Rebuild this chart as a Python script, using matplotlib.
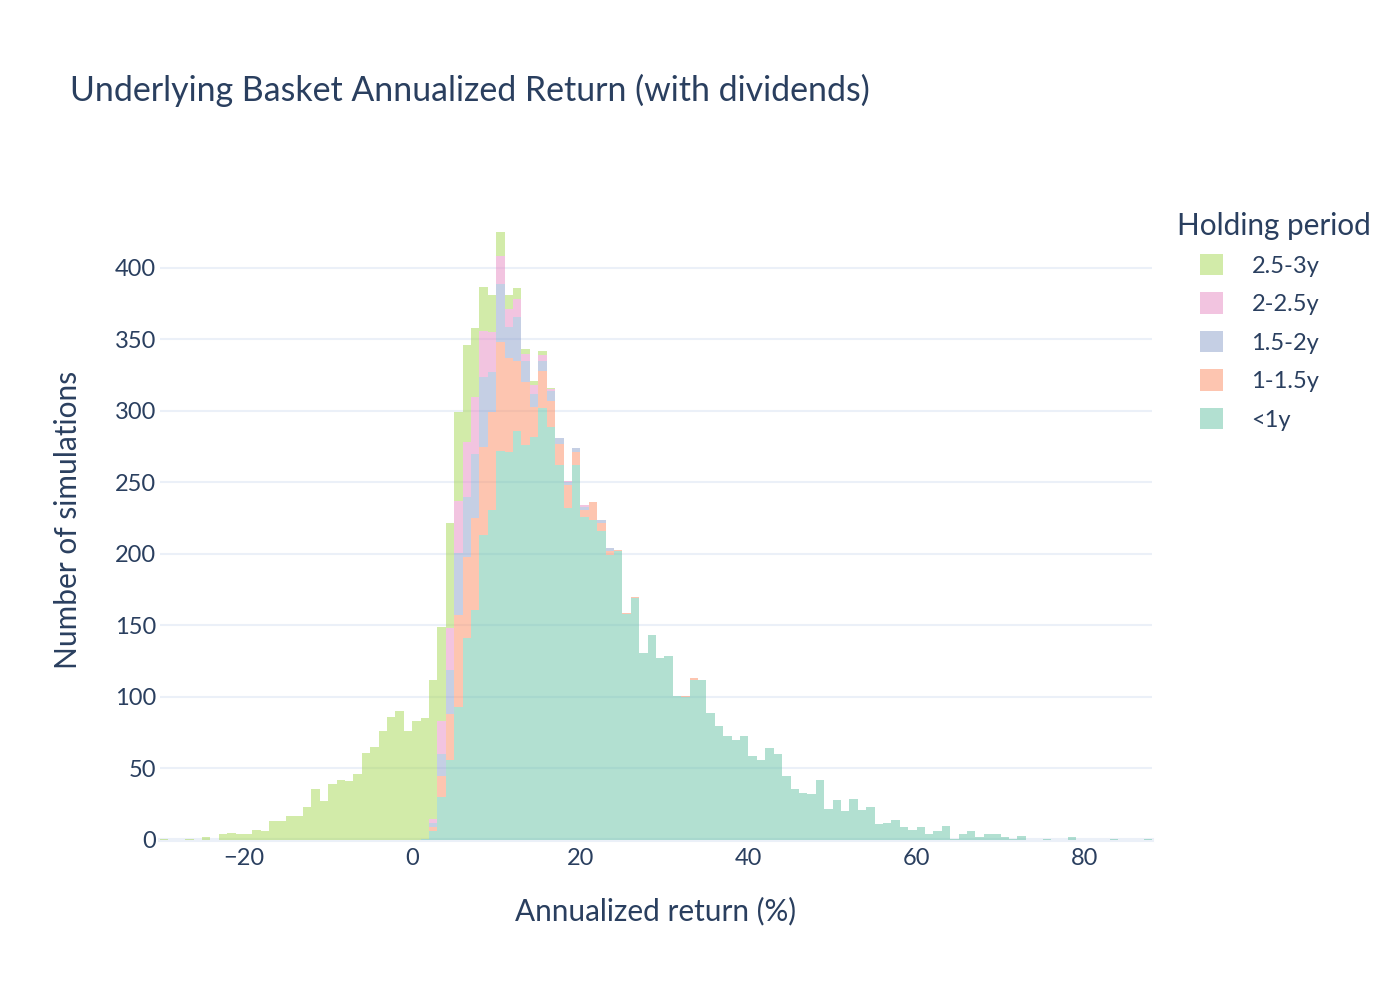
import matplotlib
matplotlib.use("Agg")
import matplotlib.pyplot as plt
from matplotlib.patches import Patch
import numpy as np

plt.rcParams['font.family'] = ['Lato', 'DejaVu Sans']

# ---------------- data ----------------
bin_start = -30          # left edge of first 1%-wide bin
n_bins = 118             # bins cover -30 .. 88

labels = ["<1y", "1-1.5y", "1.5-2y", "2-2.5y", "2.5-3y"]
colors = ["#66C2A5", "#FC8D62", "#8DA0CB", "#E78AC3", "#A6D854"]

# counts per bin, each list starts at the bin given by *_from
lt1_from = 1
lt1 = [1, 6, 30, 56, 93, 141, 161, 213, 231, 272,
       271, 286, 276, 282, 302, 289, 262, 232, 262, 226,
       224, 216, 199, 202, 158, 169, 131, 143, 127, 129,
       101, 100, 112, 112, 89, 80, 73, 70, 73, 59,
       56, 64, 60, 45, 36, 33, 32, 42, 22, 28,
       20, 29, 21, 23, 11, 12, 14, 9, 7, 9,
       4, 6, 10, 1, 4, 6, 2, 4, 4, 2,
       1, 3, 0, 0, 1, 0, 0, 2, 0, 0,
       0, 0, 1, 0, 0, 0, 1]

y1_15_from = 2
y1_15 = [3, 15, 32, 64, 57, 64, 62, 68, 76, 66,
         49, 44, 21, 26, 18, 15, 16, 9, 5, 12,
         6, 3, 1, 1, 1, 0, 0, 0, 0, 0,
         1, 1]

y15_2_from = 2
y15_2 = [3, 15, 31, 44, 42, 45, 49, 28, 41, 22,
         31, 15, 9, 7, 7, 4, 2, 3, 2, 0,
         2, 2]

y2_25_from = 2
y2_25 = [3, 23, 29, 36, 38, 40, 32, 28, 19, 12,
         12, 5, 6, 4, 1, 0, 1, 0, 1]

y25_3_from = -30
y25_3 = [1, 0, 0, 1, 0, 2, 0, 4, 5, 4,
         4, 7, 6, 13, 13, 17, 17, 23, 36, 27,
         39, 42, 41, 46, 61, 65, 76, 86, 90, 76,
         83, 84, 97, 66, 74, 62, 68, 48, 31, 26,
         17, 10, 8, 3, 3, 3, 1]

series_from = [lt1_from, y1_15_from, y15_2_from, y2_25_from, y25_3_from]
series_vals = [lt1, y1_15, y15_2, y2_25, y25_3]

title = "Underlying Basket Annualized Return (with dividends)"
xlabel = "Annualized return (%)"
ylabel = "Number of simulations"
legend_title = "Holding period"

# ---------------- build full arrays ----------------
edges = np.arange(bin_start, bin_start + n_bins)
full = []
for start, vals in zip(series_from, series_vals):
    arr = np.zeros(n_bins)
    i0 = start - bin_start
    arr[i0:i0 + len(vals)] = vals
    full.append(arr)

TXT = "#2a3f5f"
GRID = "#EBF0F8"

fig = plt.figure(figsize=(14, 10), dpi=100)
ax = fig.add_axes([160 / 1400, 160 / 1000, 992 / 1400, 640 / 1000])

bottom = np.zeros(n_bins)
for arr, c, lab in zip(full, colors, labels):
    ax.bar(edges, arr, width=1.0, align='edge', bottom=bottom,
           color=c, alpha=0.5, linewidth=0, label=lab, zorder=2)
    bottom = bottom + arr

ax.set_xlim(-30, 88)
ax.set_ylim(0, 447.5)
ax.set_yticks([0, 50, 100, 150, 200, 250, 300, 350, 400])
ax.set_xticks([-20, 0, 20, 40, 60, 80])
ax.set_xticklabels(["\u221220", "0", "20", "40", "60", "80"])
ax.yaxis.grid(True, color=GRID, linewidth=1.5, zorder=0)
ax.xaxis.grid(False)
ax.set_axisbelow(True)
ax.axhline(0, color=GRID, linewidth=2.9, zorder=1, clip_on=False)
for s in ax.spines.values():
    s.set_visible(False)
ax.tick_params(axis='both', length=0, labelsize=17, labelcolor=TXT)
ax.tick_params(axis='y', pad=3)
ax.tick_params(axis='x', pad=6)

ax.set_xlabel(xlabel, fontsize=21.4, color=TXT, va='center')
ax.xaxis.set_label_coords(0.5, (840 - 911) / 640)
ax.set_ylabel(ylabel, fontsize=21.5, color=TXT, va='center')
ax.yaxis.set_label_coords((68 - 160) / 992, 0.5)

fig.text(70 / 1400, 1 - 90 / 1000, title, ha='left', va='center',
         fontsize=24.4, color=TXT)

fig.text(1177 / 1400, 1 - 226 / 1000, legend_title, ha='left', va='center',
         fontsize=21.4, color=TXT)
handles = [Patch(facecolor=c, alpha=0.5, linewidth=0) for c in colors][::-1]
leg = ax.legend(handles, labels[::-1], loc='upper left',
                bbox_to_anchor=(1200 / 1400, 1 - 254 / 1000),
                bbox_transform=fig.transFigure, frameon=False,
                fontsize=17, labelcolor=TXT, handlelength=0.98,
                handleheight=1.0, handletextpad=1.2, labelspacing=0.67,
                borderpad=0, borderaxespad=0)

fig.savefig("out.png", dpi=100)
